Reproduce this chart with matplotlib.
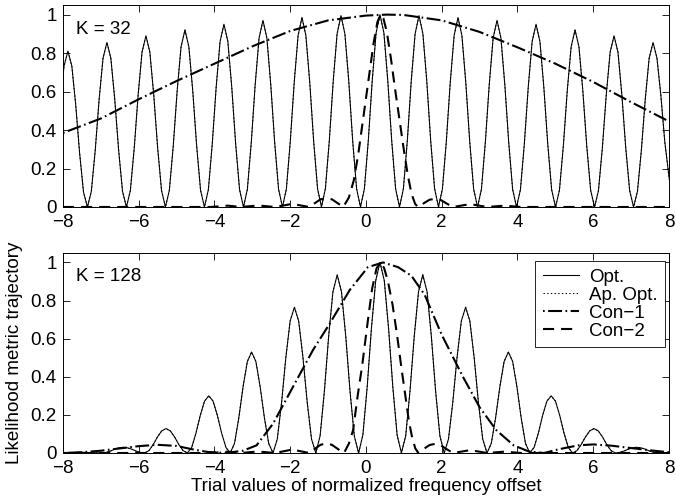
import matplotlib
matplotlib.use('Agg')
import matplotlib.pyplot as plt

plt.rcParams['font.family'] = ['Liberation Sans', 'DejaVu Sans']
plt.rcParams['font.size'] = 13.5
plt.rcParams['lines.scale_dashes'] = False

# ---- K = 32 (top panel) ----
top_opt_x = [
    -8.076, -7.973, -7.87, -7.767, -7.664, -7.561, -7.458,
    -7.355, -7.252, -7.149, -7.046, -6.943, -6.84, -6.737, -6.634, -6.531, -6.428,
    -6.325, -6.222, -6.119, -6.016, -5.913, -5.81, -5.707, -5.604, -5.501, -5.398,
    -5.295, -5.192, -5.089, -4.986, -4.883, -4.78, -4.677, -4.574, -4.471, -4.368,
    -4.265, -4.162, -4.059, -3.956, -3.853, -3.75, -3.647, -3.544, -3.441, -3.338,
    -3.235, -3.132, -3.029, -2.926, -2.823, -2.72, -2.617, -2.514, -2.411, -2.308,
    -2.205, -2.102, -1.999, -1.896, -1.793, -1.69, -1.587, -1.484, -1.381, -1.278,
    -1.175, -1.072, -0.969, -0.866, -0.763, -0.66, -0.557, -0.454, -0.351, -0.248,
    -0.145, -0.042, 0.061, 0.164, 0.267, 0.37, 0.473, 0.576, 0.679, 0.782,
    0.885, 0.988, 1.091, 1.194, 1.297, 1.4, 1.503, 1.606, 1.709, 1.812,
    1.915, 2.018, 2.121, 2.224, 2.327, 2.43, 2.533, 2.636, 2.739, 2.842,
    2.945, 3.048, 3.151, 3.254, 3.357, 3.46, 3.563, 3.666, 3.769, 3.872,
    3.975, 4.078, 4.181, 4.284, 4.387, 4.49, 4.593, 4.696, 4.799, 4.902,
    5.005, 5.108, 5.211, 5.314, 5.417, 5.52, 5.623, 5.726, 5.829, 5.932,
    6.035, 6.138, 6.241, 6.344, 6.447, 6.55, 6.653, 6.756, 6.859, 6.962,
    7.065, 7.168, 7.271, 7.374, 7.477, 7.58, 7.683, 7.786, 7.889, 7.992, 8.095,
]
top_opt_y = [
    0.53, 0.733, 0.81, 0.733, 0.53, 0.279, 0.077,
    0.0, 0.081, 0.295, 0.56, 0.774, 0.855, 0.774, 0.56, 0.295, 0.081,
    0.0, 0.085, 0.307, 0.583, 0.805, 0.89, 0.805, 0.583, 0.307, 0.085,
    0.0, 0.087, 0.317, 0.603, 0.833, 0.92, 0.833, 0.603, 0.317, 0.087,
    0.0, 0.09, 0.328, 0.622, 0.86, 0.95, 0.86, 0.622, 0.328, 0.09,
    0.0, 0.092, 0.335, 0.635, 0.878, 0.97, 0.878, 0.635, 0.335, 0.092,
    0.0, 0.094, 0.34, 0.645, 0.891, 0.985, 0.891, 0.645, 0.34, 0.094,
    0.0, 0.095, 0.343, 0.652, 0.9, 0.995, 0.9, 0.652, 0.343, 0.095,
    0.0, 0.095, 0.345, 0.655, 0.905, 1.0, 0.905, 0.655, 0.345, 0.095,
    0.0, 0.095, 0.343, 0.652, 0.9, 0.995, 0.9, 0.652, 0.343, 0.095,
    0.0, 0.094, 0.34, 0.645, 0.891, 0.985, 0.891, 0.645, 0.34, 0.094,
    0.0, 0.092, 0.335, 0.635, 0.878, 0.97, 0.878, 0.635, 0.335, 0.092,
    0.0, 0.09, 0.328, 0.622, 0.86, 0.95, 0.86, 0.622, 0.328, 0.09,
    0.0, 0.087, 0.317, 0.603, 0.833, 0.92, 0.833, 0.603, 0.317, 0.087,
    0.0, 0.085, 0.307, 0.583, 0.805, 0.89, 0.805, 0.583, 0.307, 0.085,
    0.0, 0.081, 0.295, 0.56, 0.774, 0.855, 0.774, 0.58, 0.34, 0.17, 0.02,
]
top_con1_x = [-8, -7, -6, -5, -4, -3, -2, -1, 0, 0.55, 1, 2, 3, 4, 5, 6, 7, 8]
top_con1_y = [0.385, 0.46, 0.56, 0.655, 0.745, 0.835, 0.915, 0.97, 0.995, 1.0,
              0.998, 0.97, 0.91, 0.83, 0.745, 0.65, 0.545, 0.445]
top_con2_x = [-8, -4.1, -3.65, -3.3, -2.85, -2.4, -1.95, -1.5, -1.35, -1.2, -1.05, -0.9, -0.75,
              -0.6, -0.45, -0.32, -0.2, -0.06, 0.08, 0.2, 0.3, 0.38, 0.46, 0.55, 0.66,
              0.77, 0.88, 0.99, 1.1, 1.2, 1.3, 1.38, 1.53, 1.68, 1.83, 1.98, 2.13,
              2.3, 2.75, 3.2, 3.65, 4.1, 8]
top_con2_y = [0, 0, 0.007, 0, 0.008, 0, 0.016, 0, 0.02, 0.04, 0.045, 0.04, 0.02,
              0, 0.05, 0.14, 0.28, 0.48, 0.68, 0.85, 0.96, 1.0, 0.98, 0.91, 0.77,
              0.61, 0.46, 0.31, 0.17, 0.07, 0.015, 0, 0.02, 0.038, 0.042, 0.036, 0.018,
              0, 0.015, 0, 0.007, 0, 0]

# ---- K = 128 (bottom panel) ----
bot_opt_x = [
    -8.0, -7.54,
    -6.975, -6.862, -6.749, -6.636, -6.523, -6.41, -6.297, -6.184, -6.071, -5.958,
    -5.845, -5.732, -5.619, -5.506, -5.393, -5.28, -5.167, -5.054, -4.941, -4.828,
    -4.715, -4.602, -4.489, -4.376, -4.263, -4.15, -4.037, -3.924, -3.811, -3.698,
    -3.585, -3.472, -3.359, -3.246, -3.133, -3.02, -2.907, -2.794, -2.681, -2.568,
    -2.455, -2.342, -2.229, -2.116, -2.003, -1.89, -1.777, -1.664, -1.551, -1.438,
    -1.325, -1.212, -1.099, -0.986, -0.873, -0.76, -0.647, -0.534, -0.421, -0.308,
    -0.195, -0.082, 0.031, 0.144, 0.257, 0.37, 0.483, 0.596, 0.709, 0.822,
    0.935, 1.048, 1.161, 1.274, 1.387, 1.5, 1.613, 1.726, 1.839, 1.952,
    2.065, 2.178, 2.291, 2.404, 2.517, 2.63, 2.743, 2.856, 2.969, 3.082,
    3.195, 3.308, 3.421, 3.534, 3.647, 3.76, 3.873, 3.986, 4.099, 4.212,
    4.325, 4.438, 4.551, 4.664, 4.777, 4.89, 5.003, 5.116, 5.229, 5.342,
    5.455, 5.568, 5.681, 5.794, 5.907, 6.02, 6.133, 6.246, 6.359, 6.472,
    6.585, 6.698, 6.811, 6.924, 7.037, 7.15, 7.263, 7.376, 7.489, 7.602,
    7.715, 8.0,
]
bot_opt_y = [
    0.0, 0.004,
    0.0, 0.003, 0.01, 0.02, 0.027, 0.03, 0.027, 0.02, 0.01, 0.003,
    0.0, 0.012, 0.044, 0.084, 0.116, 0.128, 0.116, 0.084, 0.044, 0.012,
    0.0, 0.029, 0.104, 0.197, 0.272, 0.3, 0.272, 0.197, 0.104, 0.029,
    0.0, 0.05, 0.183, 0.347, 0.48, 0.53, 0.48, 0.347, 0.183, 0.05,
    0.0, 0.073, 0.264, 0.501, 0.692, 0.765, 0.692, 0.501, 0.264, 0.073,
    0.0, 0.089, 0.323, 0.612, 0.846, 0.935, 0.846, 0.612, 0.323, 0.089,
    0.0, 0.095, 0.345, 0.655, 0.905, 1.0, 0.905, 0.655, 0.345, 0.095,
    0.0, 0.089, 0.323, 0.612, 0.846, 0.935, 0.846, 0.612, 0.323, 0.089,
    0.0, 0.073, 0.264, 0.501, 0.692, 0.765, 0.692, 0.501, 0.264, 0.073,
    0.0, 0.05, 0.183, 0.347, 0.48, 0.53, 0.48, 0.347, 0.183, 0.05,
    0.0, 0.029, 0.104, 0.197, 0.272, 0.3, 0.272, 0.197, 0.104, 0.029,
    0.0, 0.012, 0.044, 0.084, 0.116, 0.128, 0.116, 0.084, 0.044, 0.012,
    0.0, 0.003, 0.01, 0.02, 0.027, 0.03, 0.027, 0.02, 0.01, 0.003,
    0.0, 0.003,
]
bot_con1_x = [-8, -7.5, -7.0, -6.5, -6.0, -5.5, -5.0, -4.6, -4.2, -3.7, -3.25, -2.89,
              -2.45, -1.92, -1.4, -0.955, -0.43, 0.05, 0.45, 0.85, 1.2, 1.55, 2.0,
              2.56, 3.0, 3.44, 3.9, 4.3, 4.7, 5.1, 5.6, 6.0, 6.5, 7.0, 7.5, 8.0]
bot_con1_y = [0, 0.004, 0.012, 0.024, 0.036, 0.043, 0.037, 0.02, 0.006, 0, 0.012, 0.04,
              0.155, 0.35, 0.54, 0.68, 0.855, 0.975, 1.0, 0.975, 0.93, 0.83, 0.62,
              0.40, 0.24, 0.12, 0.04, 0.008, 0, 0.02, 0.04, 0.045, 0.038, 0.026, 0.014, 0.004]
bot_con2_x = [-8, -4.1, -3.65, -3.3, -2.85, -2.4, -1.95, -1.5, -1.35, -1.2, -1.05, -0.9, -0.75,
              -0.58, -0.45, -0.34, -0.22, -0.1, 0.04, 0.16, 0.28, 0.39, 0.48, 0.58, 0.7,
              0.82, 0.94, 1.04, 1.13, 1.21, 1.3, 1.38, 1.53, 1.68, 1.83, 1.98, 2.13,
              2.3, 2.75, 3.2, 3.65, 4.1, 8]
bot_con2_y = [0, 0, 0.007, 0, 0.008, 0, 0.018, 0, 0.022, 0.043, 0.05, 0.043, 0.022,
              0, 0.05, 0.12, 0.3, 0.46, 0.68, 0.86, 0.97, 1.0, 0.97, 0.9, 0.78,
              0.62, 0.44, 0.3, 0.17, 0.09, 0.025, 0, 0.022, 0.042, 0.048, 0.04, 0.02,
              0, 0.015, 0, 0.007, 0, 0]

x_ticks = [-8, -6, -4, -2, 0, 2, 4, 6, 8]
y_ticks = [0, 0.2, 0.4, 0.6, 0.8, 1.0]
y_tick_labels = ['0', '0.2', '0.4', '0.6', '0.8', '1']

fig = plt.figure(figsize=(6.76, 5.04), dpi=100)
ax1 = fig.add_axes([0.0932, 0.5893, 0.8964, 0.4008])
ax2 = fig.add_axes([0.0932, 0.1012, 0.8964, 0.397])


def draw_panel(ax, ox, oy, c1x, c1y, c2x, c2y, tag):
    ax.plot(ox, oy, color='k', lw=0.75, label='Opt.')
    ax.plot(ox, oy, color='k', lw=0.75, ls=':', label='Ap. Opt.')
    ax.plot(c1x, c1y, color='k', lw=1.5, dashes=(1.2, 2.5, 10, 2.5), label='Con\u22121')
    ax.plot(c2x, c2y, color='k', lw=1.5, dashes=(8, 5), label='Con\u22122')
    ax.set_xlim(-8, 8)
    ax.set_ylim(0, 1.05)
    ax.set_xticks(x_ticks)
    ax.set_yticks(y_ticks)
    ax.set_yticklabels(y_tick_labels)
    ax.tick_params(direction='in', top=True, right=True, length=5, width=0.6,
                   labelsize=13.5)
    ax.tick_params(axis='x', pad=5)
    ax.tick_params(axis='y', pad=4.5)
    for s in ax.spines.values():
        s.set_linewidth(0.7)
    ax.text(-7.65, 0.9, tag, fontsize=13.5, va='baseline')


draw_panel(ax1, top_opt_x, top_opt_y, top_con1_x, top_con1_y, top_con2_x, top_con2_y, 'K = 32')
draw_panel(ax2, bot_opt_x, bot_opt_y, bot_con1_x, bot_con1_y, bot_con2_x, bot_con2_y, 'K = 128')

ax2.set_xlabel('Trial values of normalized frequency offset', fontsize=13.5)
ax2.xaxis.set_label_coords(0.5, -0.125)
ax2.set_ylabel('Likelihood metric trajectory', fontsize=13.5)
ax2.yaxis.set_label_coords(-0.066, 0.5)

leg = ax2.legend(loc='upper right', bbox_to_anchor=(0.9934, 0.96), borderaxespad=0,
                 fancybox=False, framealpha=1, edgecolor='k', fontsize=13.5,
                 handlelength=1.9, handletextpad=0.55, labelspacing=0.05, borderpad=0.4)
leg.get_frame().set_linewidth(0.6)

fig.savefig('out.png', dpi=100)
